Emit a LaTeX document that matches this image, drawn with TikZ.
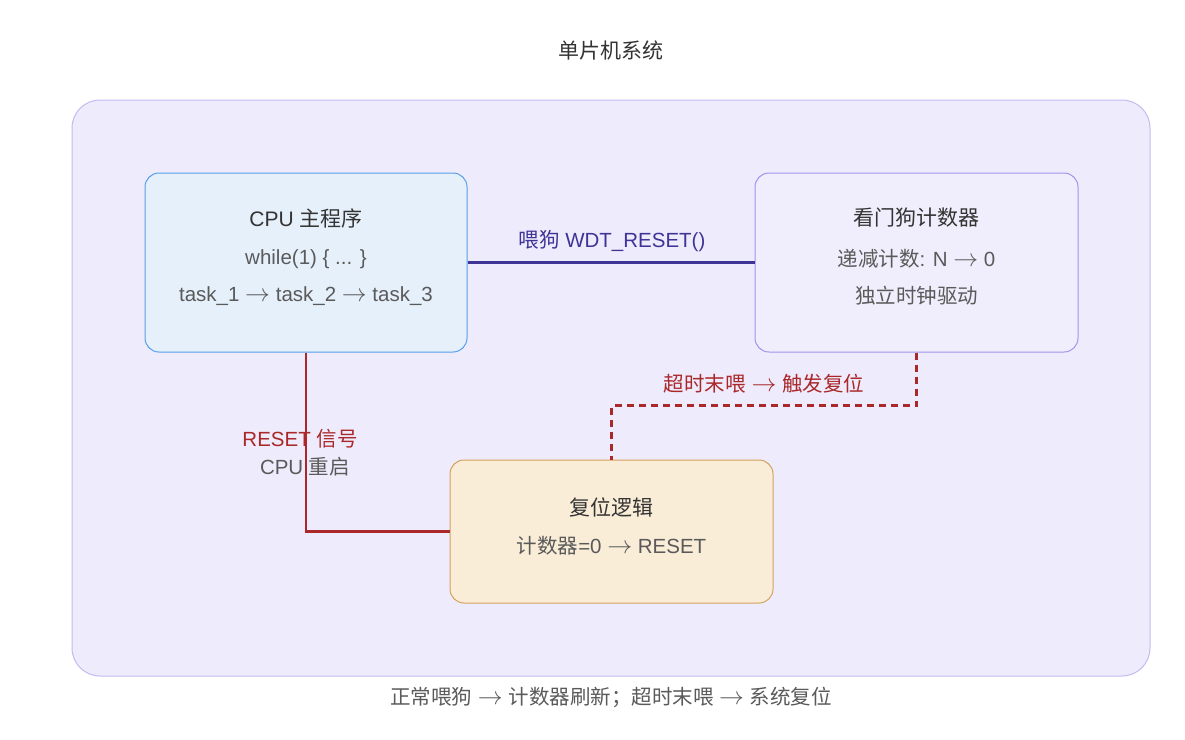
\documentclass[tikz,border=0pt]{standalone}
\usepackage{fontspec}
\usepackage{graphicx}
\setmainfont{Liberation Sans}
\newfontfamily\cjk{Noto Sans CJK SC}
\newcommand{\myarr}{\scalebox{1.2}{$\rightarrow$}}
\definecolor{outerfill}{RGB}{238,236,252}
\definecolor{outerdraw}{RGB}{196,186,240}
\definecolor{cpufill}{RGB}{230,240,251}
\definecolor{cpudraw}{RGB}{88,158,232}
\definecolor{wdtfill}{RGB}{240,238,252}
\definecolor{wdtdraw}{RGB}{160,148,236}
\definecolor{rstfill}{RGB}{250,237,216}
\definecolor{rstdraw}{RGB}{212,160,92}
\definecolor{titletext}{RGB}{51,51,51}
\definecolor{bodytext}{RGB}{90,90,90}
\definecolor{feedcol}{RGB}{62,52,150}
\definecolor{resetcol}{RGB}{170,40,42}
\begin{document}
\begin{tikzpicture}[x=1pt,y=-1pt,
  box/.style={rectangle, rounded corners=14pt, line width=1pt, inner sep=0pt},
  ttl/.style={font=\fontsize{21}{25}\selectfont, text=titletext, inner sep=0pt, anchor=center},
  bdy/.style={font=\fontsize{20.5}{24}\selectfont, text=bodytext, inner sep=0pt, anchor=center},
  lbl/.style={font=\fontsize{20.5}{24}\selectfont, inner sep=0pt, anchor=center},
  conn/.style={line width=2.4pt}
]
\useasboundingbox (0,0) rectangle (1185,739);
\fill[white] (0,0) rectangle (1185,739);

\node[ttl] (title) at (611,50) {\cjk 单片机系统};

\node[rectangle, rounded corners=28pt, line width=1pt, fill=outerfill, draw=outerdraw,
      minimum width=1078pt, minimum height=576pt, inner sep=0pt] (sys) at (611,388) {};

\node[box, fill=cpufill, draw=cpudraw, minimum width=322pt, minimum height=179pt] (cpu) at (306,262.5) {};
\node[box, fill=wdtfill, draw=wdtdraw, minimum width=323pt, minimum height=179pt] (wdt) at (916.5,262.5) {};
\node[box, fill=rstfill, draw=rstdraw, minimum width=323pt, minimum height=143pt] (rst) at (611.5,531.5) {};

\node[ttl] (cputitle) at (306,218) {CPU {\cjk 主程序}};
\node[bdy] (cpul1) at (306,259) {while(1) \{ ... \}};
\node[bdy] (cpul2) at (306,296) {task\_1 \myarr{} task\_2 \myarr{} task\_3};

\node[ttl] (wdttitle) at (916.5,218) {\cjk 看门狗计数器};
\node[bdy] (wdtl1) at (916.5,259) {{\cjk 递减计数}: N \myarr{} 0};
\node[bdy] (wdtl2) at (916.5,296) {\cjk 独立时钟驱动};

\node[ttl] (rsttitle) at (611.5,507) {\cjk 复位逻辑};
\node[bdy] (rstl1) at (611.5,546) {{\cjk 计数器}=0 \myarr{} RESET};

\draw[conn, feedcol] (cpu.east) -- (wdt.west);
\node[lbl, text=feedcol] (feedlbl) at (612,241) {{\cjk 喂狗} WDT\_RESET()};

\draw[conn, resetcol] (cpu.south) |- (rst.west);
\node[lbl, text=resetcol] (rstlbl1) at (300,439) {RESET {\cjk 信号}};
\node[lbl, text=bodytext] (rstlbl2) at (305,467) {CPU {\cjk 重启}};

\coordinate (bend) at ([yshift=-53pt]wdt.south);
\draw[conn, resetcol, dash pattern=on 7pt off 5pt] (wdt.south) -- (bend) -| (rst.north);
\node[lbl, text=resetcol] (tolbl) at (764,384) {{\cjk 超时末喂} \myarr{} {\cjk 触发复位}};

\node[bdy] (caption) at (611,697) {{\cjk 正常喂狗} \myarr{} {\cjk 计数器刷新；超时末喂} \myarr{} {\cjk 系统复位}};
\end{tikzpicture}
\end{document}
